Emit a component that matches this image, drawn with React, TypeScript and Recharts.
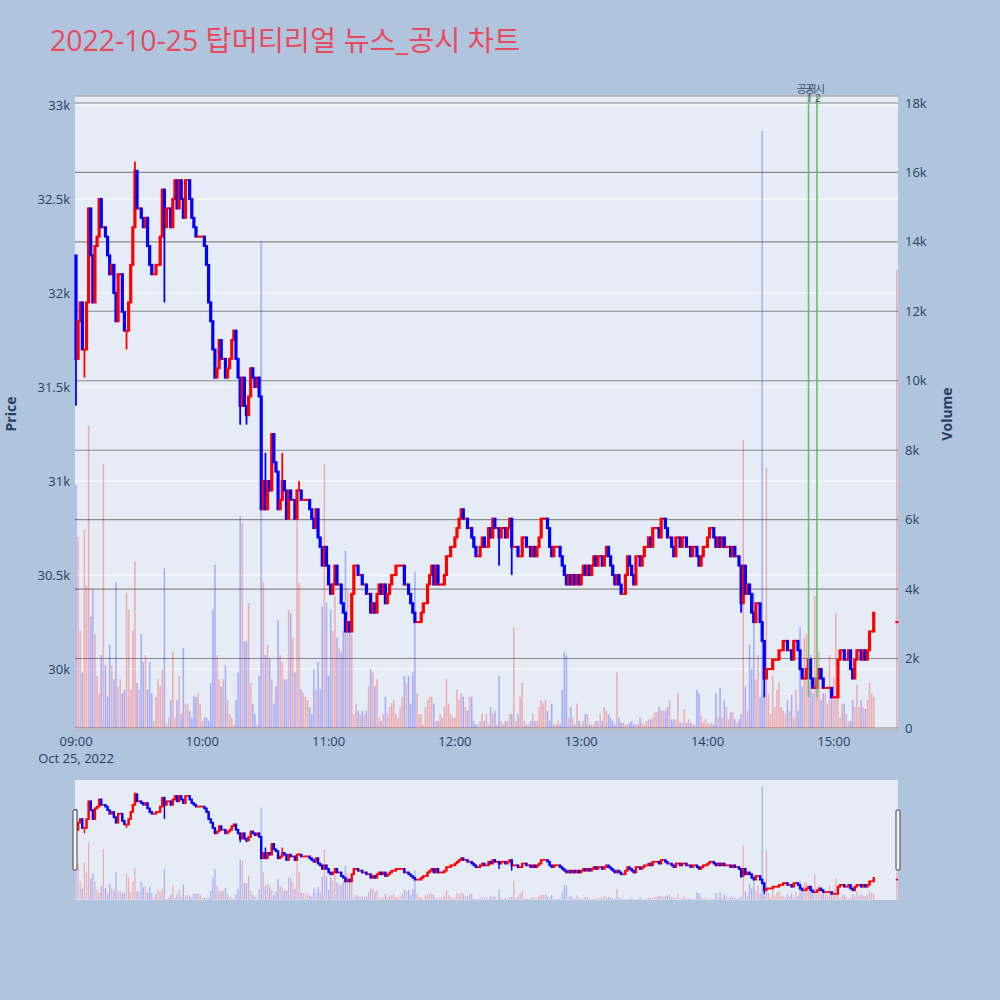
import React from 'react';
import { ComposedChart, Bar, XAxis, YAxis, CartesianGrid, ReferenceLine } from 'recharts';

const UP = '#ff0000';
const DOWN = '#0000ff';
const INK = '#2a3f5f';
const FONT = "'Open Sans', 'Noto Sans CJK KR', sans-serif";

// 1-minute closes from 09:00 (index = minutes after open)
const firstOpen = 32200;
const closes = [
  31650, 31850, 31950, 31700, 31700, 31950, 32450, 32200, 31950, 32250,
  32300, 32500, 32350, 32350, 32300, 32200, 32100, 32150, 32000, 31850,
  32100, 32100, 31900, 31800, 31800, 31950, 32150, 32350, 32650, 32450,
  32450, 32400, 32350, 32400, 32250, 32150, 32100, 32100, 32150, 32150,
  32300, 32550, 32350, 32450, 32450, 32350, 32500, 32600, 32450, 32600,
  32500, 32400, 32600, 32600, 32500, 32400, 32350, 32300, 32300, 32300,
  32300, 32250, 32150, 31950, 31850, 31700, 31550, 31600, 31750, 31650,
  31650, 31550, 31600, 31650, 31750, 31800, 31650, 31550, 31400, 31550,
  31400, 31350, 31450, 31600, 31550, 31500, 31550, 31450, 30850, 31000,
  30850, 31000, 30950, 31250, 31100, 31050, 30850, 30900, 31000, 30950,
  30800, 30950, 30900, 30900, 30800, 30950, 30950, 30900, 30900, 30900,
  30900, 30850, 30800, 30750, 30850, 30700, 30650, 30550, 30650, 30550,
  30450, 30400, 30450, 30550, 30450, 30450, 30350, 30300, 30200, 30250,
  30200, 30400, 30550, 30550, 30500, 30500, 30450, 30450, 30400, 30400,
  30300, 30350, 30300, 30400, 30450, 30400, 30450, 30350, 30400, 30450,
  30500, 30500, 30550, 30550, 30550, 30550, 30450, 30450, 30400, 30350,
  30300, 30250, 30250, 30250, 30300, 30350, 30350, 30450, 30500, 30550,
  30450, 30550, 30450, 30450, 30450, 30500, 30600, 30600, 30650, 30650,
  30700, 30750, 30800, 30850, 30800, 30800, 30750, 30750, 30700, 30650,
  30600, 30600, 30650, 30700, 30650, 30650, 30750, 30700, 30800, 30750,
  30750, 30700, 30750, 30750, 30700, 30750, 30800, 30650, 30650, 30650,
  30600, 30600, 30700, 30700, 30650, 30650, 30600, 30650, 30600, 30650,
  30700, 30800, 30800, 30800, 30750, 30650, 30600, 30650, 30650, 30650,
  30600, 30550, 30500, 30450, 30500, 30450, 30500, 30450, 30500, 30450,
  30500, 30550, 30500, 30550, 30500, 30550, 30600, 30550, 30600, 30600,
  30550, 30600, 30650, 30600, 30550, 30500, 30450, 30500, 30450, 30400,
  30400, 30500, 30600, 30550, 30500, 30450, 30600, 30600, 30550, 30600,
  30650, 30650, 30700, 30650, 30750, 30750, 30750, 30700, 30800, 30800,
  30750, 30700, 30700, 30650, 30600, 30700, 30700, 30650, 30700, 30700,
  30650, 30650, 30600, 30650, 30650, 30600, 30550, 30600, 30650, 30650,
  30700, 30750, 30750, 30700, 30650, 30700, 30650, 30700, 30650, 30650,
  30650, 30600, 30650, 30600, 30600, 30550, 30350, 30550, 30400, 30450,
  30400, 30300, 30250, 30350, 30350, 30250, 30150, 29950, 30000, 30000,
  30000, 30050, 30050, 30050, 30100, 30100, 30150, 30150, 30100, 30100,
  30050, 30150, 30150, 30100, 30000, 29950, 29950, 30000, 30050, 29950,
  29900, 29900, 29950, 30000, 29950, 29900, 29900, 29900, 29900, 29850,
  29850, 29850, 30050, 30100, 30100, 30050, 30050, 30100, 30000, 29950,
  30050, 30100, 30100, 30050, 30100, 30050, 30100, 30200, 30200, 30300,
];

// volume per minute, thousands of shares
const volumesK = [
  7.0, 5.5, 2.8, 1.6, 5.7, 4.1, 8.7, 3.2, 4.0, 2.7,
  1.5, 1.0, 2.1, 7.6, 1.8, 0.9, 2.4, 1.8, 1.4, 4.2,
  1.2, 1.4, 1.0, 1.1, 3.9, 3.4, 1.1, 2.8, 4.8, 1.3,
  1.1, 2.7, 1.9, 2.1, 1.1, 1.9, 1.0, 0.2, 0.9, 1.4,
  1.2, 1.7, 4.6, 0.1, 0.3, 0.8, 2.2, 0.3, 0.8, 1.5,
  0.4, 2.3, 0.7, 0.7, 0.5, 0.3, 0.9, 0.9, 1.0, 0.7,
  0.2, 0.3, 0.3, 0.2, 1.3, 3.4, 4.7, 2.1, 1.4, 1.2,
  1.4, 1.8, 0.8, 0.4, 0.3, 0.1, 0.8, 1.6, 6.1, 5.9,
  2.5, 2.5, 3.6, 1.3, 0.7, 0.4, 0.1, 1.5, 14.0, 4.2,
  2.1, 2.4, 2.0, 1.4, 0.7, 1.2, 3.1, 2.1, 1.9, 1.4,
  1.4, 3.4, 3.3, 2.6, 1.6, 6.0, 4.2, 1.1, 1.0, 0.9,
  0.8, 0.6, 0.4, 1.7, 1.1, 1.9, 1.1, 3.5, 7.6, 3.6,
  1.5, 3.4, 2.8, 3.8, 2.6, 2.3, 2.2, 2.8, 5.1, 4.0,
  2.8, 2.7, 0.4, 0.7, 0.5, 0.4, 0.5, 0.4, 0.5, 1.2,
  1.7, 1.6, 1.2, 1.4, 0.3, 0.2, 0.4, 0.9, 0.4, 0.6,
  0.7, 0.8, 0.4, 0.3, 0.6, 0.9, 1.5, 1.3, 1.5, 0.7,
  1.6, 4.5, 1.0, 0.4, 0.4, 0.1, 0.6, 0.8, 0.9, 0.9,
  0.7, 0.2, 0.2, 0.4, 0.3, 0.6, 1.4, 0.7, 0.4, 0.3,
  0.3, 1.1, 0.8, 1.0, 0.9, 0.6, 0.5, 0.9, 0.9, 0.2,
  0.1, 0.1, 0.2, 0.4, 0.2, 0.4, 0.1, 0.6, 0.4, 0.5,
  0.1, 1.5, 0.2, 0.1, 0.2, 0.2, 0.4, 0.4, 2.9, 0.2,
  0.4, 0.9, 1.3, 0.2, 0.1, 0.1, 0.2, 0.4, 0.2, 0.2,
  0.6, 0.8, 0.7, 0.8, 0.5, 0.2, 0.7, 0.1, 0.1, 0.2,
  0.1, 1.1, 2.2, 2.1, 0.3, 0.6, 0.3, 0.1, 0.7, 0.2,
  0.1, 0.2, 0.4, 0.4, 0.1, 0.1, 0.1, 0.2, 0.2, 0.4,
  0.2, 0.6, 0.5, 0.4, 0.3, 0.2, 0.1, 1.6, 0.3, 0.15,
  0.15, 0.1, 0.1, 0.15, 0.2, 0.1, 0.1, 0.1, 0.3, 0.15,
  0.1, 0.2, 0.25, 0.25, 0.3, 0.45, 0.45, 0.6, 0.5, 0.5,
  0.5, 0.6, 0.8, 0.25, 0.25, 0.25, 1.0, 0.15, 0.15, 0.55,
  0.15, 0.25, 0.15, 0.1, 0.1, 1.1, 1.0, 0.35, 0.15, 0.25,
  0.15, 0.1, 0.15, 0.1, 1.0, 0.3, 1.15, 0.3, 0.8, 0.6,
  0.25, 0.45, 0.45, 0.25, 0.15, 0.25, 0.4, 8.3, 1.2, 0.5,
  2.4, 1.7, 3.9, 1.4, 2.1, 0.9, 17.2, 1.0, 7.5, 1.0,
  0.4, 1.5, 0.6, 1.1, 1.3, 0.6, 0.5, 0.4, 0.8, 0.5,
  0.95, 0.3, 1.1, 0.5, 2.9, 1.2, 2.6, 2.7, 1.35, 2.1,
  1.0, 3.8, 0.9, 2.2, 0.8, 1.0, 1.0, 0.7, 2.1, 1.0,
  1.45, 3.3, 1.45, 0.3, 0.7, 0.7, 0.4, 0.2, 0.2, 0.8,
  0.6, 1.25, 0.6, 0.8, 0.6, 0.55, 0.8, 1.3, 1.0, 0.9,
];

// wicks reaching beyond the bodies: [minute, price]
const wickLows: [number, number][] = [
  [0, 31400], [4, 31550], [24, 31700], [42, 31950], [78, 31300], [81, 31300],
  [201, 30550], [207, 30500], [316, 30300], [327, 29850],
];
const wickHighs: [number, number][] = [
  [28, 32700], [90, 31150], [98, 31150], [106, 31000],
];

// 15:30 closing auction print
const auction = { minute: 390, open: 30250, close: 30250, volumeK: 13.2 };

const disclosures = [
  { minute: 348, label: '1' },
  { minute: 352, label: '2' },
];
const disclosureLow = 29850;

const hourLabels = ['09:00', '10:00', '11:00', '12:00', '13:00', '14:00', '15:00'];
const dateLabel = 'Oct 25, 2022';
const priceTicks = [30000, 30500, 31000, 31500, 32000, 32500, 33000];
const volumeTicksK = [0, 2, 4, 6, 8, 10, 12, 14, 16, 18];
const priceDomain: [number, number] = [29676, 33048];
const volumeDomain: [number, number] = [-0.058, 18.2];

function buildRows() {
  const lows = new Map(wickLows);
  const highs = new Map(wickHighs);
  const out: any[] = [];
  for (let m = 0; m <= auction.minute; m++) {
    if (m < closes.length) {
      const open = m === 0 ? firstOpen : closes[m - 1];
      const close = closes[m];
      out.push({
        m,
        open,
        close,
        high: Math.max(open, close, highs.get(m) ?? -Infinity),
        low: Math.min(open, close, lows.get(m) ?? Infinity),
        vol: volumesK[m],
      });
    } else if (m === auction.minute) {
      out.push({
        m,
        open: auction.open,
        close: auction.close,
        high: Math.max(auction.open, auction.close),
        low: Math.min(auction.open, auction.close),
        vol: auction.volumeK,
      });
    } else {
      out.push({ m, open: null, close: null, high: null, low: null, vol: null });
    }
  }
  return out;
}

const rows = buildRows();

const candleRange = (d: any) => (d.close == null ? null : [d.low, d.high]);

const makeCandle = (bodyW: number, wickW: number, pad: number) => (props: any) => {
  const { x, y, width, height, payload } = props;
  if (!payload || payload.close == null || y == null) return <g />;
  const top = Math.min(y, y + height);
  const bottom = Math.max(y, y + height);
  const { open, close, high, low } = payload;
  const span = high - low;
  const toPx = (v: number) => (span === 0 ? top : top + ((high - v) / span) * (bottom - top));
  const cx = x + width / 2;
  const color = close >= open ? UP : DOWN;
  const bTop = toPx(Math.max(open, close));
  const bBot = toPx(Math.min(open, close));
  return (
    <g>
      {bottom - top > 0 && (
        <line x1={cx} x2={cx} y1={top} y2={bottom} stroke={color} strokeWidth={wickW} />
      )}
      <rect x={cx - bodyW / 2} y={bTop - pad} width={bodyW} height={bBot - bTop + pad * 2} fill={color} />
    </g>
  );
};

const makeVolume = (w: number, opacity: number) => (props: any) => {
  const { x, y, width, height, payload } = props;
  if (!payload || payload.vol == null || y == null) return <g />;
  const top = Math.min(y, y + height);
  const color = payload.close >= payload.open ? UP : DOWN;
  return (
    <rect x={x + width / 2 - w / 2} y={top} width={w} height={Math.abs(height)} fill={color} fillOpacity={opacity} />
  );
};

const candleMain = makeCandle(3.2, 1.8, 1);
const volumeMain = makeVolume(1.5, 0.28);
const candleMini = makeCandle(2.4, 1.4, 0.9);
const volumeMini = makeVolume(1.2, 0.28);

function TimeTick(props: any) {
  const { x, y, payload } = props;
  const label = hourLabels[Math.round(payload.value / 60)] ?? '';
  return (
    <g>
      <text x={x} y={y} dy="0.71em" textAnchor="middle" fill={INK} fontSize={13} fontFamily={FONT}>
        {label}
      </text>
      {payload.value === 0 && (
        <text x={x} y={y + 17} dy="0.71em" textAnchor="middle" fill={INK} fontSize={13} fontFamily={FONT}>
          {dateLabel}
        </text>
      )}
    </g>
  );
}

function DisclosureLabel(props: any) {
  const { viewBox, n } = props;
  if (!viewBox) return null;
  const x = viewBox.x;
  const y = Math.min(viewBox.y, viewBox.y + (viewBox.height || 0));
  return (
    <g fontFamily={FONT} fontSize={11} fill="#44546a" textAnchor="middle">
      <text x={x - 2} y={y - 8} dominantBaseline="central">공시</text>
      <text x={x + 1} y={y + 1} dominantBaseline="central">{n}</text>
    </g>
  );
}

const fmtPrice = (v: number) => `${v / 1000}k`;
const fmtVolume = (v: number) => (v === 0 ? '0' : `${v}k`);

export default function App() {
  return (
    <div
      style={{
        position: 'absolute',
        left: 0,
        top: 0,
        width: 1000,
        height: 1000,
        background: '#B0C4DE',
        overflow: 'hidden',
        fontFamily: FONT,
      }}
    >
      <div style={{ position: 'absolute', left: 0, top: 0 }}>
        <ComposedChart
          width={1000}
          height={780}
          data={rows}
          margin={{ top: 96, right: 52, left: 20, bottom: 10 }}
          barCategoryGap={0}
          barGap={0}
        >
          <XAxis
            xAxisId="main"
            dataKey="m"
            type="category"
            interval={59}
            tick={<TimeTick />}
            tickSize={0}
            tickMargin={7}
            axisLine={false}
            tickLine={false}
            height={40}
          />
          <XAxis xAxisId="vol" dataKey="m" type="category" hide />
          <YAxis
            yAxisId="price"
            orientation="left"
            type="number"
            domain={priceDomain}
            ticks={priceTicks}
            interval={0}
            allowDataOverflow
            tickFormatter={fmtPrice}
            width={55}
            tickSize={0}
            tickMargin={5}
            axisLine={false}
            tickLine={false}
            tick={{ fill: INK, fontSize: 13, fontFamily: FONT }}
          />
          <YAxis
            yAxisId="vol"
            orientation="right"
            type="number"
            domain={volumeDomain}
            ticks={volumeTicksK}
            interval={0}
            allowDataOverflow
            tickFormatter={fmtVolume}
            width={50}
            tickSize={0}
            tickMargin={7}
            axisLine={false}
            tickLine={false}
            tick={{ fill: INK, fontSize: 13, fontFamily: FONT }}
          />
          <CartesianGrid xAxisId="main" yAxisId="price" vertical={false} stroke="#ffffff" fill="#E5ECF6" fillOpacity={1} />
          <CartesianGrid xAxisId="vol" yAxisId="vol" vertical={false} stroke="#8a8a8a" strokeWidth={1.1} />
          <Bar xAxisId="vol" yAxisId="vol" dataKey="vol" shape={volumeMain} isAnimationActive={false} />
          <Bar xAxisId="main" yAxisId="price" dataKey={candleRange} shape={candleMain} isAnimationActive={false} />
          {disclosures.map((d) => (
            <ReferenceLine
              key={d.label}
              xAxisId="main"
              yAxisId="price"
              segment={[
                { x: d.minute, y: disclosureLow },
                { x: d.minute, y: priceDomain[1] },
              ]}
              stroke="#5cb85c"
              strokeWidth={1.6}
              strokeOpacity={0.9}
              label={<DisclosureLabel n={d.label} />}
            />
          ))}
        </ComposedChart>
      </div>

      {/* range slider preview */}
      <div style={{ position: 'absolute', left: 75, top: 780, width: 823, height: 120, background: '#E5ECF6' }}>
        <ComposedChart
          width={823}
          height={120}
          data={rows}
          margin={{ top: 0, right: 0, left: 0, bottom: 0 }}
          barCategoryGap={0}
          barGap={0}
        >
          <XAxis xAxisId="main" dataKey="m" type="category" hide />
          <XAxis xAxisId="vol" dataKey="m" type="category" hide />
          <YAxis yAxisId="price" type="number" domain={priceDomain} allowDataOverflow hide />
          <YAxis yAxisId="vol" type="number" domain={volumeDomain} allowDataOverflow hide />
          <Bar xAxisId="vol" yAxisId="vol" dataKey="vol" shape={volumeMini} isAnimationActive={false} />
          <Bar xAxisId="main" yAxisId="price" dataKey={candleRange} shape={candleMini} isAnimationActive={false} />
        </ComposedChart>
      </div>

      <svg width={1000} height={1000} style={{ position: 'absolute', left: 0, top: 0, pointerEvents: 'none' }}>
        <text x={50} y={51} fontSize={28.4} fill="#E84A5F" fontFamily={FONT}>
          2022-10-25 탑머티리얼 뉴스_공시 차트
        </text>
        <text
          x={10}
          y={414}
          transform="rotate(-90 10 414)"
          textAnchor="middle"
          dominantBaseline="central"
          fontSize={14}
          fontWeight="bold"
          fill={INK}
          fontFamily={FONT}
        >
          Price
        </text>
        <text
          x={946}
          y={414}
          transform="rotate(-90 946 414)"
          textAnchor="middle"
          dominantBaseline="central"
          fontSize={14}
          fontWeight="bold"
          fill={INK}
          fontFamily={FONT}
        >
          Volume
        </text>
        <rect x={73} y={810} width={4} height={60} fill="#f2f2f2" stroke="#444" strokeWidth={1} rx={1} />
        <rect x={896} y={810} width={4} height={60} fill="#f2f2f2" stroke="#444" strokeWidth={1} rx={1} />
      </svg>
    </div>
  );
}
